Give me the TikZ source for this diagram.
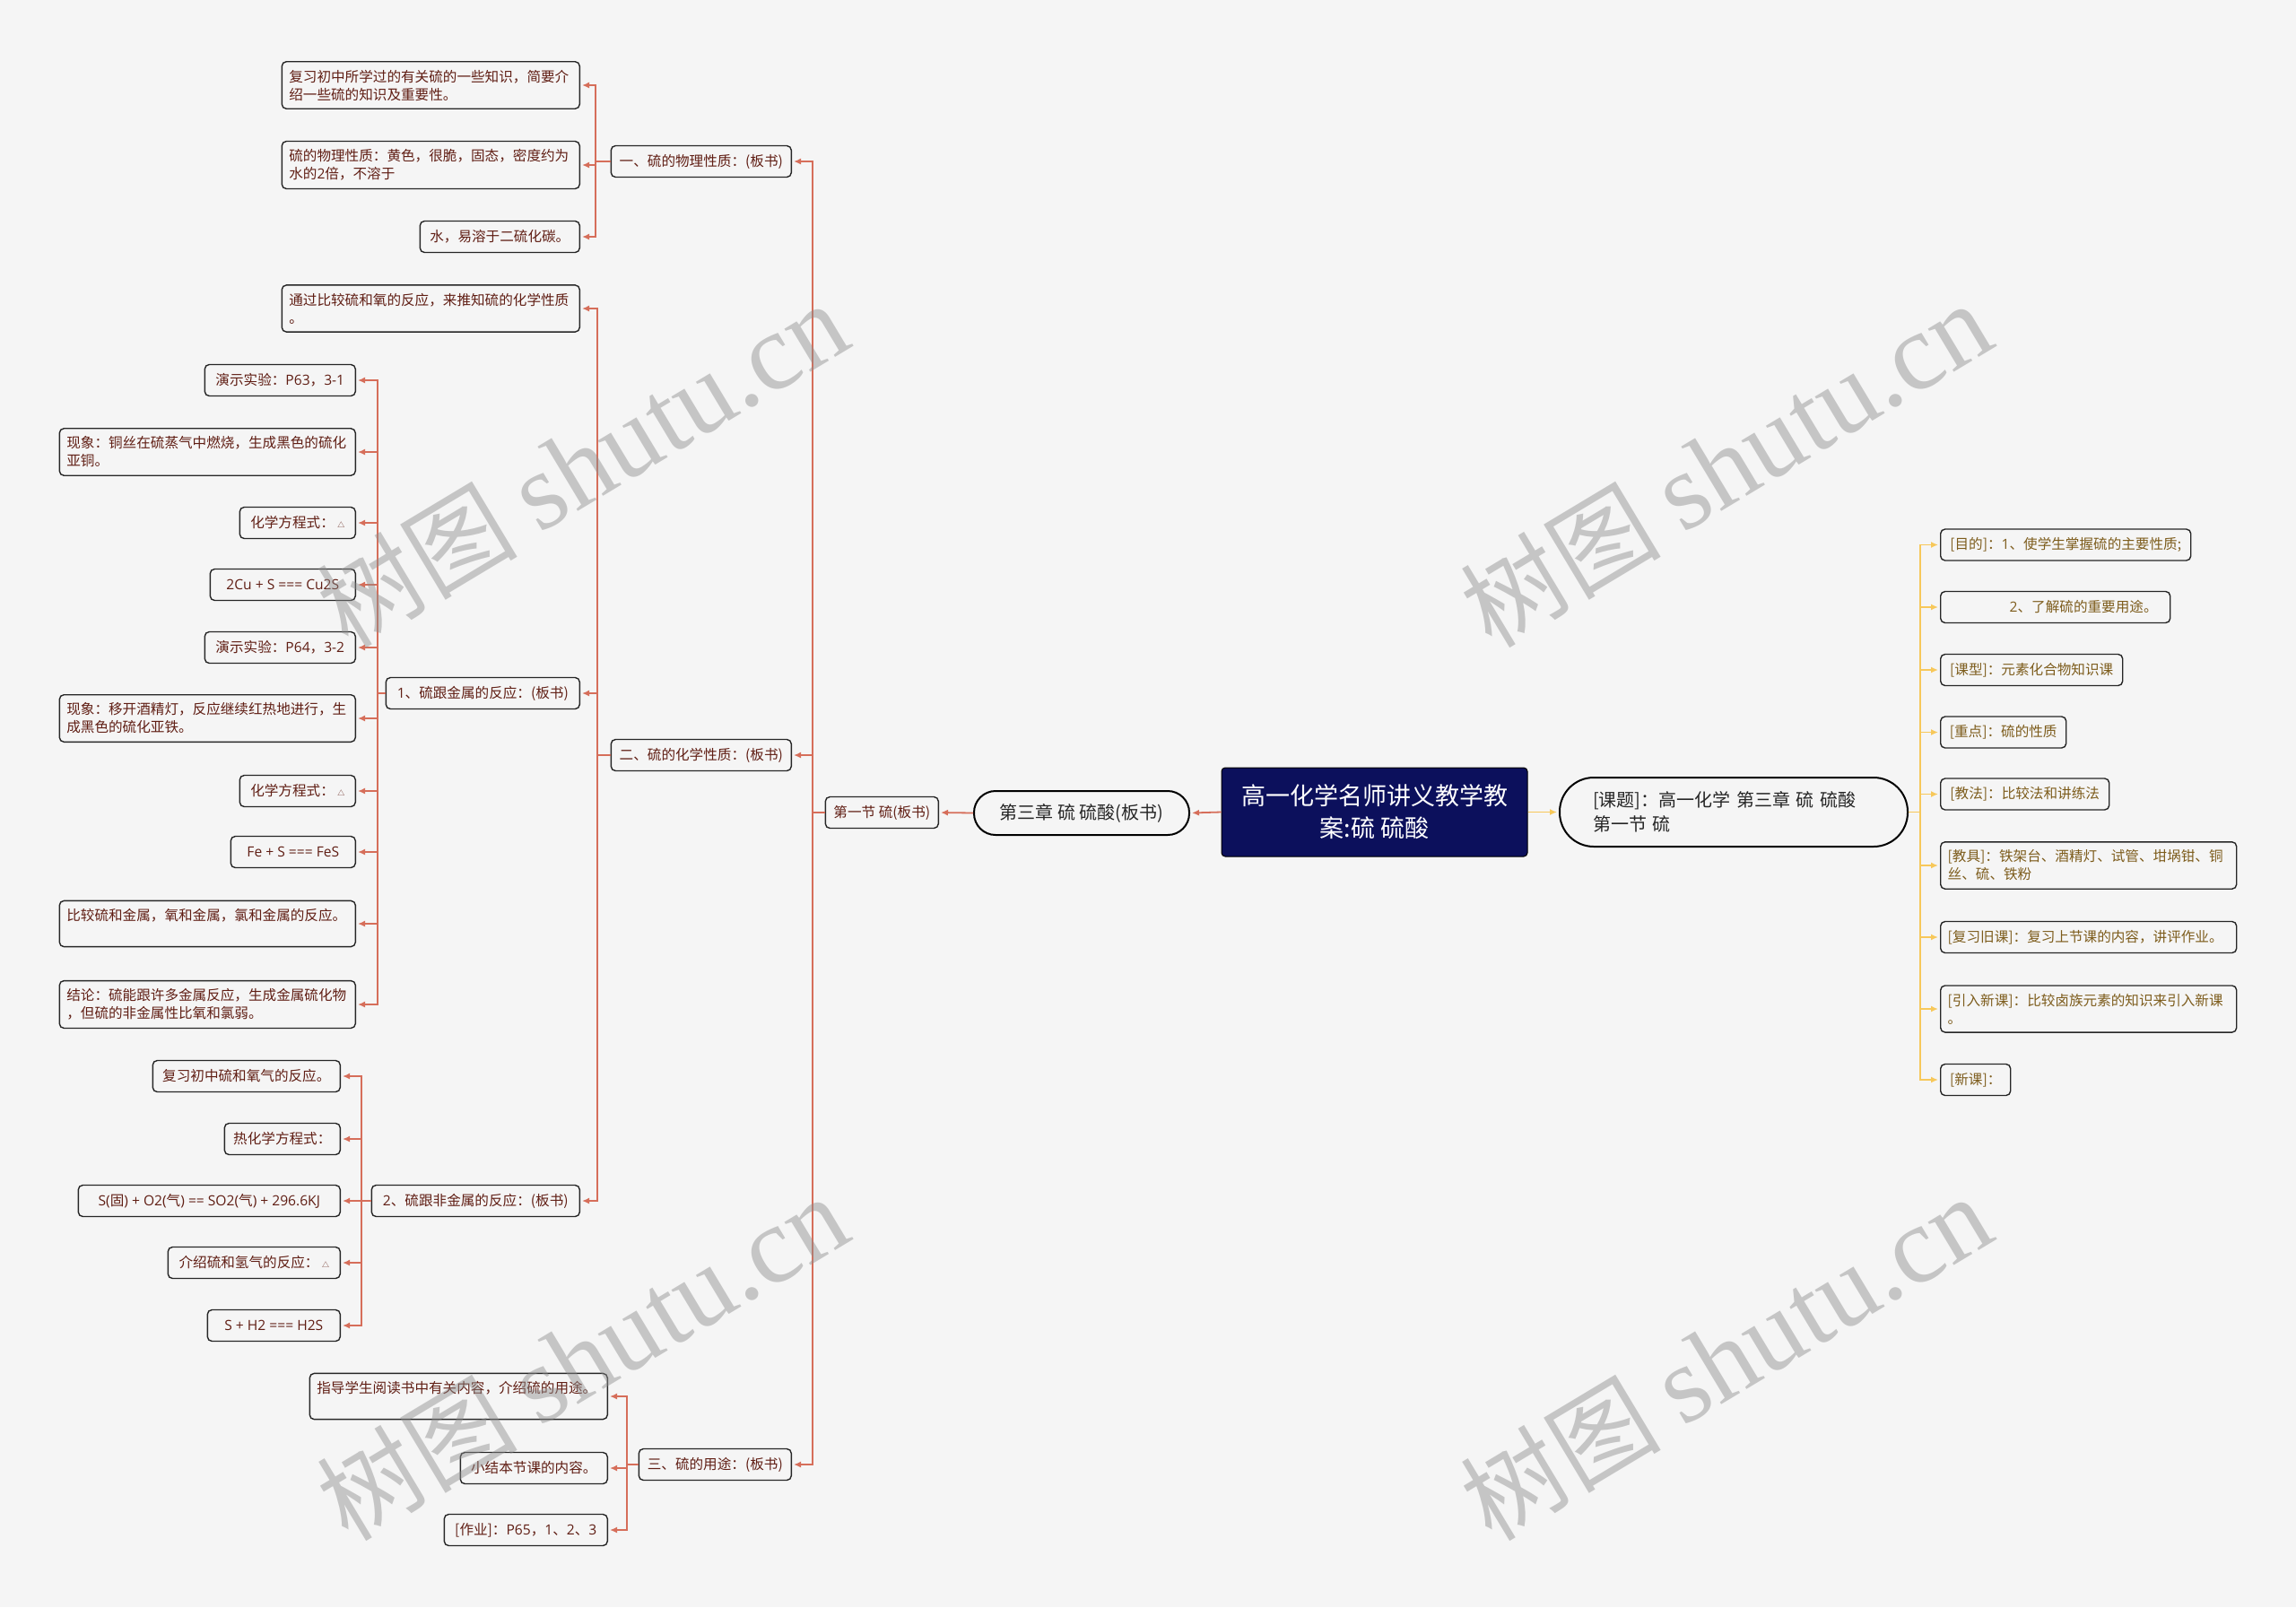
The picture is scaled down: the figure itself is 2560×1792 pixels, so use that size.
\documentclass[tikz,border=0pt]{standalone}
\usepackage{fontspec}
\newfontfamily\cjk{Noto Sans CJK SC}
\newfontfamily\lat{Open Sans}
\newfontfamily\marca{Liberation Serif}
\usepackage{tikz}
\usetikzlibrary{arrows.meta}
\definecolor{fondo}{RGB}{245,245,245}
\definecolor{raizc}{RGB}{12,16,92}
\definecolor{rojo}{RGB}{214,110,90}
\definecolor{amarillo}{RGB}{247,200,90}
\definecolor{txtrojo}{RGB}{96,30,20}
\definecolor{txtoro}{RGB}{125,92,28}

\begin{document}
\begin{tikzpicture}[x=1pt, y=-1pt,
    caja/.style={draw=black!85, line width=1.4pt, rounded corners=5pt, fill=fondo,
      font=\cjk\fontsize{15.6}{20}\selectfont, inner xsep=8pt, inner ysep=9pt,
      minimum height=35pt, align=left},
    izq/.style={caja, text=txtrojo, anchor=east},
    der/.style={caja, text=txtoro, anchor=west},
    flechar/.style={draw=rojo, line width=1.8pt, -{Latex[length=8pt,width=7pt]}, shorten >=2pt},
    flechaa/.style={draw=amarillo, line width=1.8pt, -{Latex[length=8pt,width=7pt]}, shorten >=2pt}]
    \fill[fondo] (0,0) rectangle (2560,1792);
    \useasboundingbox (0,0) rectangle (2560,1792);

    % Nodo central
    \node[fill=raizc, draw=black, line width=1pt, rounded corners=4pt, text=white,
      font=\cjk\fontsize{27}{36}\selectfont, align=center, minimum width=341pt,
      minimum height=99pt, inner sep=0pt] (raiz) at (1532.5,905.5) {高一化学名师讲义教学教\\案:硫 硫酸};
    \node[draw=black, line width=2pt, rounded corners=24pt, fill=fondo, text=black!85,
      font=\cjk\fontsize{20}{26}\selectfont, minimum width=240pt, minimum height=49pt] (cap) at (1206,906.5) {第三章 硫 硫酸(板书)};
    \node[draw=black, line width=2pt, rounded corners=38pt, fill=fondo, text=black!85,
      font=\cjk\fontsize{20}{27}\selectfont, minimum width=388pt, minimum height=77pt,
      text width=314pt, align=left] (tema) at (1933,905.5) {[课题]：高一化学 第三章 硫 硫酸\\第一节 硫};
    \node[izq, minimum width=126pt] (sec) at (1047,906) {第一节 硫(板书)};

    % Nodos de la derecha
    \node[der, minimum width=279pt] (r1) at (2163,607.5) {[目的]：{\lat 1}、使学生掌握硫的主要性质;};
    \node[der, text width=240pt] (r2) at (2163,677) {\hspace*{69pt}{\lat 2}、了解硫的重要用途。};
    \node[der, minimum width=203pt] (r3) at (2163,747) {[课型]：元素化合物知识课};
    \node[der, minimum width=140pt] (r4) at (2163,816.5) {[重点]：硫的性质};
    \node[der, minimum width=188pt] (r5) at (2163,885.5) {[教法]：比较法和讲练法};
    \node[der, text width=314pt] (r6) at (2163,965) {[教具]：铁架台、酒精灯、试管、坩埚钳、铜\\丝、硫、铁粉};
    \node[der, text width=314pt] (r7) at (2163,1045) {[复习旧课]：复习上节课的内容，讲评作业。};
    \node[der, text width=314pt] (r8) at (2163,1125) {[引入新课]：比较卤族元素的知识来引入新课\\。};
    \node[der, minimum width=78pt] (r9) at (2163,1204) {[新课]：};

    % Nodos de la izquierda (segundo nivel)
    \node[izq, minimum width=201pt] (fis) at (883,180) {一、硫的物理性质：(板书)};
    \node[izq, minimum width=201pt] (quim) at (883,842) {二、硫的化学性质：(板书)};
    \node[izq, minimum width=170pt] (uso) at (883,1633) {三、硫的用途：(板书)};

    % Propiedades fisicas
    \node[izq, text width=316pt] (f1) at (647,95) {复习初中所学过的有关硫的一些知识，简要介\\绍一些硫的知识及重要性。};
    \node[izq, text width=316pt] (f2) at (647,184) {硫的物理性质：黄色，很脆，固态，密度约为\\水的{\lat 2}倍，不溶于};
    \node[izq, minimum width=178pt] (f3) at (647,264) {水，易溶于二硫化碳。};

    % Propiedades quimicas
    \node[izq, text width=316pt] (q1) at (647,344) {通过比较硫和氧的反应，来推知硫的化学性质\\。};
    \node[izq, minimum width=216pt] (met) at (647,773) {{\lat 1}、硫跟金属的反应：(板书)};
    \node[izq, minimum width=232pt] (nomet) at (647,1339) {{\lat 2}、硫跟非金属的反应：(板书)};

    \node[izq, minimum width=168pt] (m1) at (397,424) {演示实验：{\lat P63}，{\lat 3-1}};
    \node[izq, text width=314pt] (m2) at (397,504) {现象：铜丝在硫蒸气中燃烧，生成黑色的硫化\\亚铜。};
    \node[izq, minimum width=129pt] (m3) at (397,583) {化学方程式：\ {\fontsize{8}{8}\selectfont △}};
    \node[izq, minimum width=162pt] (m4) at (397,652) {\lat 2Cu + S === Cu2S};
    \node[izq, minimum width=168pt] (m5) at (397,722) {演示实验：{\lat P64}，{\lat 3-2}};
    \node[izq, text width=314pt] (m6) at (397,801) {现象：移开酒精灯，反应继续红热地进行，生\\成黑色的硫化亚铁。};
    \node[izq, minimum width=129pt] (m7) at (397,882) {化学方程式：\ {\fontsize{8}{8}\selectfont △}};
    \node[izq, minimum width=139pt] (m8) at (397,950) {\lat Fe + S === FeS};
    \node[izq, text width=314pt] (m9) at (397,1030) {比较硫和金属，氧和金属，氯和金属的反应。\\\mbox{}};
    \node[izq, text width=314pt] (m10) at (397,1120) {结论：硫能跟许多金属反应，生成金属硫化物\\，但硫的非金属性比氧和氯弱。};

    \node[izq, minimum width=209pt] (n1) at (380,1200) {复习初中硫和氧气的反应。};
    \node[izq, minimum width=129pt] (n2) at (380,1270) {热化学方程式：};
    \node[izq, minimum width=292pt] (n3) at (380,1339) {{\lat S(}固{\lat ) + O2(}气{\lat ) == SO2(}气{\lat ) + 296.6KJ}};
    \node[izq, minimum width=192pt] (n4) at (380,1408) {介绍硫和氢气的反应：\ {\fontsize{8}{8}\selectfont △}};
    \node[izq, minimum width=148pt] (n5) at (380,1478) {\lat S + H2 === H2S};

    % Usos
    \node[izq, text width=316pt] (u1) at (678,1557) {指导学生阅读书中有关内容，介绍硫的用途。\\\mbox{}};
    \node[izq, minimum width=164pt] (u2) at (678,1637) {小结本节课的内容。};
    \node[izq, minimum width=182pt] (u3) at (678,1706) {[作业]：{\lat P65}，{\lat 1}、{\lat 2}、{\lat 3}};

    % Barras verticales
    \coordinate (b0) at (906,0);
    \coordinate (b1) at (664,0);
    \coordinate (b2) at (666,0);
    \coordinate (b3) at (421,0);
    \coordinate (b4) at (403,0);
    \coordinate (b5) at (699,0);
    \coordinate (b6) at (2141,0);

    % Arcos
    \draw[flechar] (raiz.west) -- (cap.east);
    \draw[flechar] (cap.west) -- (sec.east);
    \draw[flechaa] (raiz.east) -- (tema.west);
    \foreach \h in {r1,r2,r3,r4,r5,r6,r7,r8,r9}
      \draw[flechaa] (tema.east) -| (b6 |- \h.west) -- (\h.west);
    \foreach \h in {fis,quim,uso}
      \draw[flechar] (sec.west) -| (b0 |- \h.east) -- (\h.east);
    \foreach \h in {f1,f2,f3}
      \draw[flechar] (fis.west) -| (b1 |- \h.east) -- (\h.east);
    \foreach \h in {q1,met,nomet}
      \draw[flechar] (quim.west) -| (b2 |- \h.east) -- (\h.east);
    \foreach \h in {m1,m2,m3,m4,m5,m6,m7,m8,m9,m10}
      \draw[flechar] (met.west) -| (b3 |- \h.east) -- (\h.east);
    \foreach \h in {n1,n2,n3,n4,n5}
      \draw[flechar] (nomet.west) -| (b4 |- \h.east) -- (\h.east);
    \foreach \h in {u1,u2,u3}
      \draw[flechar] (uso.west) -| (b5 |- \h.east) -- (\h.east);

    % Marcas de agua
    \foreach \px/\py [count=\i] in {649/518, 1924/518, 649/1514, 1924/1514}
      \node[rotate=31, text=black!45, text opacity=0.45, inner sep=0pt] (wm\i) at (\px,\py)
        {\cjk\fontsize{112}{112}\selectfont 树图\ \marca\fontsize{122}{122}\selectfont shutu.cn};
\end{tikzpicture}
\end{document}
